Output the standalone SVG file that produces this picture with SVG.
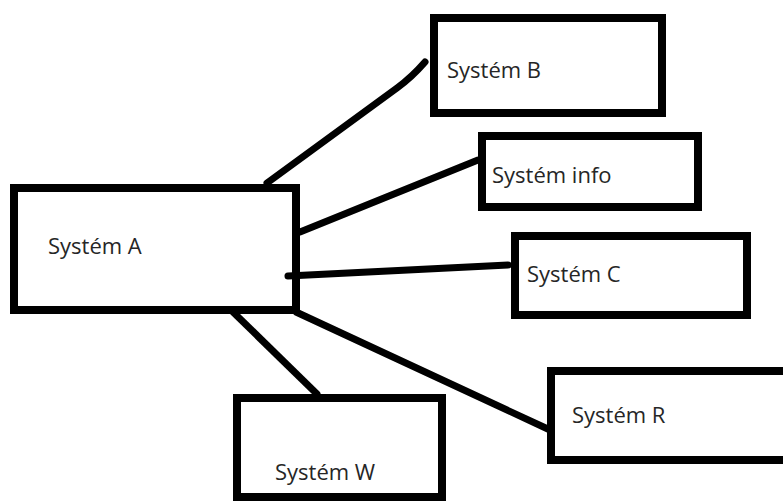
<svg xmlns="http://www.w3.org/2000/svg" width="783" height="501" viewBox="0 0 783 501">
  <style>
    .box { fill: none; stroke: #000000; stroke-width: 8; }
    .conn { fill: none; stroke: #000000; stroke-width: 7; stroke-linecap: round; stroke-linejoin: round; }
    .lbl { font-family: "Open Sans", "Liberation Sans", sans-serif; font-size: 22px; fill: #262626; }
  </style>
  <rect width="783" height="501" fill="#ffffff"/>
  <g id="connectors">
    <path class="conn" d="M267,183 L397,88 Q412,77 425,62"/>
    <path class="conn" d="M300,232 L478,160"/>
    <path class="conn" d="M288,276 L508,265"/>
    <path class="conn" d="M296,312 L550,430"/>
    <path class="conn" d="M233,312 L317,394"/>
  </g>
  <g id="systemA">
    <rect class="box" x="14" y="188" width="282" height="122"/>
    <text class="lbl" x="48" y="254">Systém A</text>
  </g>
  <g id="systemB">
    <rect class="box" x="434" y="18" width="228" height="95"/>
    <text class="lbl" x="447" y="78">Systém B</text>
  </g>
  <g id="systemInfo">
    <rect class="box" x="482" y="136" width="216" height="71"/>
    <text class="lbl" x="492" y="183">Systém info</text>
  </g>
  <g id="systemC">
    <rect class="box" x="515" y="236" width="232" height="79"/>
    <text class="lbl" x="527" y="282">Systém C</text>
  </g>
  <g id="systemR">
    <rect class="box" x="551" y="371" width="260" height="89"/>
    <text class="lbl" x="572" y="423">Systém R</text>
  </g>
  <g id="systemW">
    <rect class="box" x="237" y="398" width="205" height="99"/>
    <text class="lbl" x="275" y="480">Systém W</text>
  </g>
</svg>
